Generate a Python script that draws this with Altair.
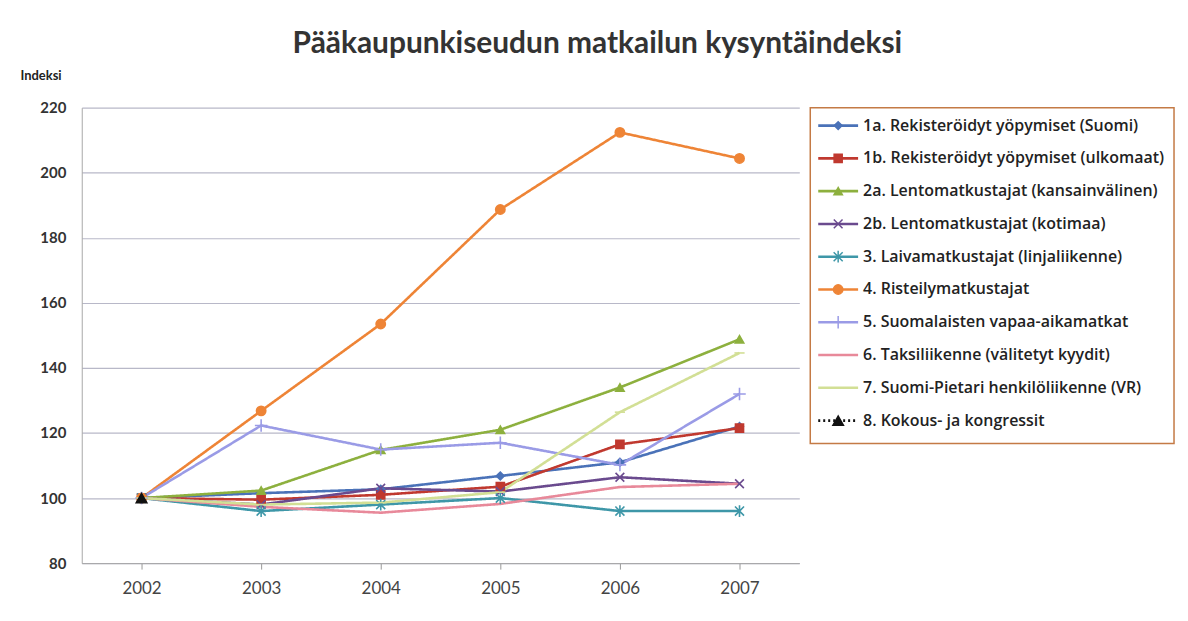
import altair as alt
import pandas as pd

years = ["2002", "2003", "2004", "2005", "2006", "2007"]

series = [
    "1a. Rekisteröidyt yöpymiset (Suomi)",
    "1b. Rekisteröidyt yöpymiset (ulkomaat)",
    "2a. Lentomatkustajat (kansainvälinen)",
    "2b. Lentomatkustajat (kotimaa)",
    "3. Laivamatkustajat (linjaliikenne)",
    "4. Risteilymatkustajat",
    "5. Suomalaisten vapaa-aikamatkat",
    "6. Taksiliikenne (välitetyt kyydit)",
    "7. Suomi-Pietari henkilöliikenne (VR)",
    "8. Kokous- ja kongressit",
]

s1a = [100, 101.5, 102.7, 106.8, 111.0, 122.0]
s1b = [100, 99.5, 101.0, 103.5, 116.5, 121.5]
s2a = [100, 102.3, 114.8, 121.0, 134.0, 148.8]
s2b = [100, 98.0, 103.0, 102.0, 106.4, 104.4]
s3 = [100, 96.0, 98.0, 100.0, 96.0, 96.0]
s4 = [100, 126.8, 153.5, 188.7, 212.4, 204.4]
s5 = [100, 122.3, 114.9, 117.0, 110.2, 132.0]
s6 = [100, 97.3, 95.5, 98.2, 103.4, 104.4]
s7 = [100, 98.0, 98.6, 101.8, 126.4, 144.6]
s8 = [100]

all_values = [s1a, s1b, s2a, s2b, s3, s4, s5, s6, s7, s8]

colors = ["#4A72B8", "#C0392F", "#8DB03E", "#6A4A8E", "#3E97A8",
          "#EE8436", "#9A9BE6", "#E8899A", "#D2DF95", "#111111"]

X_PATH = "M-1,-1L1,1M-1,1L1,-1"
AST_PATH = "M-1,-1L1,1M-1,1L1,-1M0,-1.3L0,1.3"
PLUS_PATH = "M-1.3,0L1.3,0M0,-1.3L0,1.3"
DASH_PATH = "M-1,0L1,0"
shapes = ["diamond", "square", "triangle-up", X_PATH, AST_PATH, "circle",
          PLUS_PATH, DASH_PATH, DASH_PATH, "triangle-up"]
sizes = [60, 110, 90, 90, 90, 110, 110, 30, 30, 80]
dashes = [[1, 0]] * 9 + [[2, 3]]

rows = []
for name, vals in zip(series, all_values):
    for yr, v in zip(years, vals):
        rows.append({"series": name, "year": yr, "value": v})
df = pd.DataFrame(rows)

color_scale = alt.Scale(domain=series, range=colors)
shape_scale = alt.Scale(domain=series, range=shapes)
size_scale = alt.Scale(domain=series, range=sizes)
dash_scale = alt.Scale(domain=series, range=dashes)

FONT = "Lato"
LEG_FONT = "Open Sans"

base = alt.Chart(df).encode(
    x=alt.X(
        "year:O",
        scale=alt.Scale(type="point", padding=0.5),
        axis=alt.Axis(
            title=None, labelAngle=0, labelFontSize=17, labelColor="#444",
            labelFont=FONT, ticks=True, tickSize=6, tickColor="#999",
            labelPadding=11, domainColor="#A8A8A8", grid=False,
        ),
    ),
    y=alt.Y(
        "value:Q",
        scale=alt.Scale(domain=[80, 220], nice=False, zero=False),
        axis=alt.Axis(
            values=[80, 100, 120, 140, 160, 180, 200, 220],
            title="Indeksi", titleAngle=0, titleX=-62, titleY=-32,
            titleAlign="left", titleBaseline="middle", titleFontSize=13,
            titleFont=FONT, titleFontWeight="bold", titleColor="#222",
            labelFontSize=15, labelFont=FONT, labelFontWeight="bold",
            labelColor="#333", labelPadding=16, ticks=False,
            domainColor="#A8A8A8", gridColor="#B8B8C8", gridWidth=1.2,
        ),
    ),
    color=alt.Color("series:N", scale=color_scale, legend=None),
)

lines = base.mark_line(strokeWidth=2.6).encode(
    strokeDash=alt.StrokeDash("series:N", scale=dash_scale, legend=None)
)
points = base.transform_filter(
    alt.datum.series != series[7]
).mark_point(filled=True, opacity=1, strokeWidth=1.6).encode(
    shape=alt.Shape("series:N", scale=shape_scale, legend=None),
    size=alt.Size("series:N", scale=size_scale, legend=None),
    stroke=alt.Color("series:N", scale=color_scale, legend=None),
)

main = alt.layer(lines, points).properties(
    width=720, height=457, view=alt.ViewConfig(stroke=None)
)

leg_df = pd.DataFrame({"series": series})
leg_y = alt.Y("series:N", sort=series,
              scale=alt.Scale(type="point", range=[18, 314], padding=0),
              axis=None)
leg_base = alt.Chart(leg_df).encode(
    y=leg_y,
    color=alt.Color("series:N", scale=color_scale, legend=None),
)
leg_lines = leg_base.mark_rule(strokeWidth=2.6).encode(
    x=alt.value(8), x2=alt.value(48),
    strokeDash=alt.StrokeDash("series:N", scale=dash_scale, legend=None),
)
leg_points = leg_base.transform_filter(
    alt.datum.series != series[7]
).mark_point(filled=True, opacity=1, strokeWidth=1.5).encode(
    x=alt.value(28),
    shape=alt.Shape("series:N", scale=shape_scale, legend=None),
    size=alt.Size("series:N", scale=size_scale, legend=None),
    stroke=alt.Color("series:N", scale=color_scale, legend=None),
)
leg_text = alt.Chart(leg_df).mark_text(
    align="left", baseline="middle", fontSize=16, font=LEG_FONT,
    fontWeight=600, color="#222"
).encode(
    y=leg_y,
    x=alt.value(53),
    text="series:N",
)
legend = alt.layer(leg_lines, leg_points, leg_text).properties(
    width=365, height=337,
    view=alt.ViewConfig(stroke="#C47A45", strokeWidth=1.5),
)

chart = alt.hconcat(main, legend, spacing=10).properties(
    title=alt.TitleParams(
        "Pääkaupunkiseudun matkailun kysyntäindeksi",
        fontSize=30, font=FONT, fontWeight="bold", color="#333",
        anchor="middle", offset=11,
    ),
    padding={"left": 12, "top": 20, "right": 5, "bottom": 5},
    background="white",
).resolve_scale(
    color="shared", shape="shared", size="shared", strokeDash="shared"
)

chart.save("out.html", embed_options={"renderer": "svg", "actions": False})
